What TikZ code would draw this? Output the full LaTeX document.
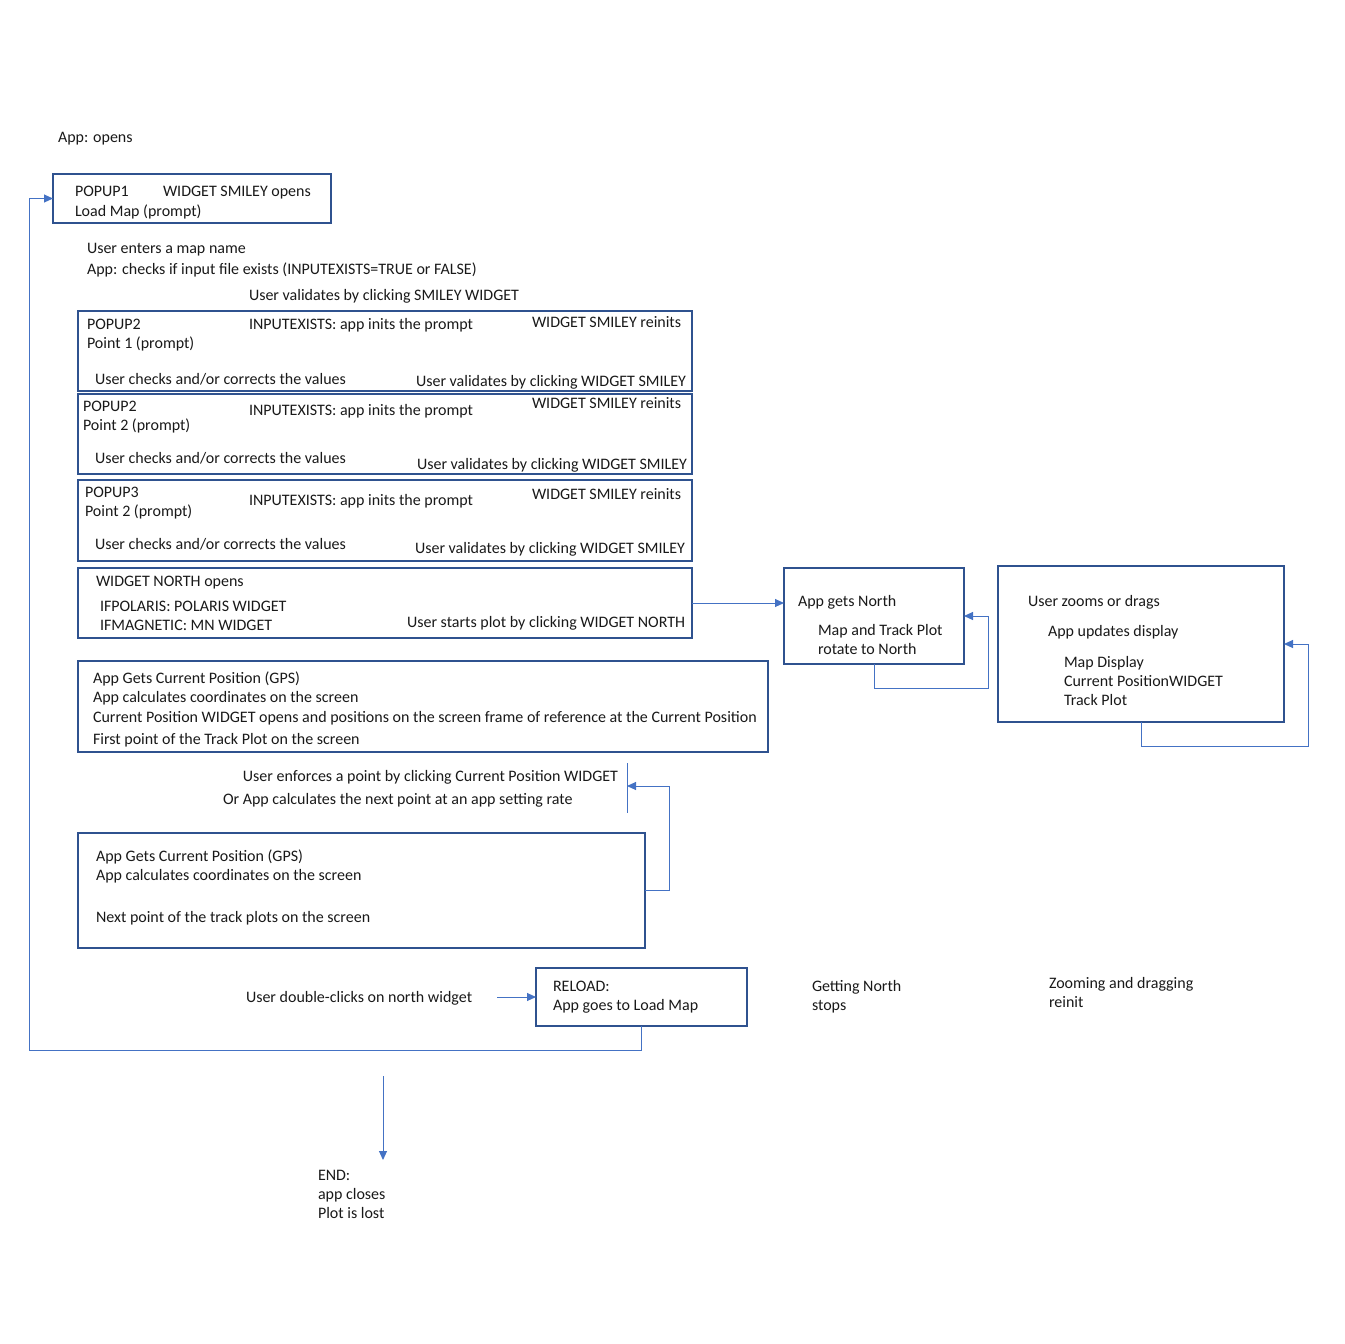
\documentclass[tikz,border=0pt]{standalone}
\usepackage{fontspec}
\setmainfont{Carlito}
\usetikzlibrary{arrows.meta}
\definecolor{boxline}{HTML}{2F528F}
\definecolor{linkblue}{HTML}{4472C4}
\begin{document}
\begin{tikzpicture}[x=1pt,y=-1pt,
  every node/.style={font=\fontsize{16}{19}\selectfont, inner sep=0pt, outer sep=0pt, text=black!90},
  txt/.style={anchor=base west},
  rtxt/.style={anchor=base east},
  box/.style={draw=boxline, line width=1.2pt, anchor=north west},
  link/.style={draw=linkblue, line width=1pt, -{Triangle[length=9pt,width=8pt]}},
  plain/.style={draw=linkblue, line width=1pt}]
\useasboundingbox (0,0) rectangle (1344,1344);

% ---- boxes ----
\node[box, minimum width=278pt, minimum height=49pt] (popup1) at (53,174) {};
\node[box, minimum width=614pt, minimum height=80pt] (popup2a) at (78,311) {};
\node[box, minimum width=614pt, minimum height=80pt] (popup2b) at (78,394) {};
\node[box, minimum width=614pt, minimum height=81pt] (popup3) at (78,480) {};
\node[box, minimum width=614pt, minimum height=70pt] (north) at (78,568) {};
\node[box, minimum width=180pt, minimum height=96pt] (appnorth) at (784,568) {};
\node[box, minimum width=286pt, minimum height=156pt] (zoom) at (998,566) {};
\node[box, minimum width=690pt, minimum height=91pt] (gps1) at (78,661) {};
\node[box, minimum width=567pt, minimum height=115pt] (gps2) at (78,833) {};
\node[box, minimum width=211pt, minimum height=58pt] (reload) at (536,968) {};

% ---- texts ----
\node[txt] (appopens) at (58,142) {App: opens};

\node[txt] (p1a) at (75,196) {POPUP1};
\node[txt] (p1b) at (163,196) {WIDGET SMILEY opens};
\node[txt] (p1c) at (75,216) {Load Map (prompt)};

\node[txt] (enter1) at (87,253) {User enters a map name};
\node[txt] (enter2) at (87,274) {App: checks if input file exists (INPUTEXISTS=TRUE or FALSE)};
\node[txt] (valid0) at (249,300) {User validates by clicking SMILEY WIDGET};

\node[txt] (p2a1) at (87,329) {POPUP2};
\node[txt] (p2a2) at (87,348) {Point 1 (prompt)};
\node[txt] (p2a3) at (249,329) {INPUTEXISTS: app inits the prompt};
\node[txt] (p2a4) at (532,327) {WIDGET SMILEY reinits};
\node[txt] (p2a5) at (95,384) {User checks and/or corrects the values};
\node[txt] (p2a6) at (416,386) {User validates by clicking WIDGET SMILEY};

\node[txt] (p2b1) at (83,411) {POPUP2};
\node[txt] (p2b2) at (83,430) {Point 2 (prompt)};
\node[txt] (p2b3) at (249,415) {INPUTEXISTS: app inits the prompt};
\node[txt] (p2b4) at (532,408) {WIDGET SMILEY reinits};
\node[txt] (p2b5) at (95,463) {User checks and/or corrects the values};
\node[txt] (p2b6) at (417,469) {User validates by clicking WIDGET SMILEY};

\node[txt] (p31) at (85,497) {POPUP3};
\node[txt] (p32) at (85,516) {Point 2 (prompt)};
\node[txt] (p33) at (249,505) {INPUTEXISTS: app inits the prompt};
\node[txt] (p34) at (532,499) {WIDGET SMILEY reinits};
\node[txt] (p35) at (95,549) {User checks and/or corrects the values};
\node[txt] (p36) at (415,553) {User validates by clicking WIDGET SMILEY};

\node[txt] (n1) at (96,586) {WIDGET NORTH opens};
\node[txt] (n2) at (100,611) {IFPOLARIS: POLARIS WIDGET};
\node[txt] (n3) at (100,630) {IFMAGNETIC: MN WIDGET};
\node[txt] (n4) at (407,627) {User starts plot by clicking WIDGET NORTH};

\node[txt] (an1) at (798,606) {App gets North};
\node[txt] (an2) at (818,635) {Map and Track Plot};
\node[txt] (an3) at (818,654) {rotate to North};

\node[txt] (z1) at (1028,606) {User zooms or drags};
\node[txt] (z2) at (1048,636) {App updates display};
\node[txt] (z3) at (1064,667) {Map Display};
\node[txt] (z4) at (1064,686) {Current PositionWIDGET};
\node[txt] (z5) at (1064,705) {Track Plot};

\node[txt] (g11) at (93,683) {App Gets Current Position (GPS)};
\node[txt] (g12) at (93,702) {App calculates coordinates on the screen};
\node[txt] (g13) at (93,722) {Current Position WIDGET opens and positions on the screen frame of reference at the Current Position};
\node[txt] (g14) at (93,744) {First point of the Track Plot on the screen};

\node[rtxt] (enf1) at (618,781) {User enforces a point by clicking Current Position WIDGET};
\node[txt] (enf2) at (223,804) {Or App calculates the next point at an app setting rate};

\node[txt] (g21) at (96,861) {App Gets Current Position (GPS)};
\node[txt] (g22) at (96,880) {App calculates coordinates on the screen};
\node[txt] (g23) at (96,922) {Next point of the track plots on the screen};

\node[txt] (dbl) at (246,1002) {User double-clicks on north widget};
\node[txt] (r1) at (553,991) {RELOAD:};
\node[txt] (r2) at (553,1010) {App goes to Load Map};

\node[txt] (gn1) at (812,991) {Getting North};
\node[txt] (gn2) at (812,1010) {stops};
\node[txt] (zd1) at (1049,988) {Zooming and dragging};
\node[txt] (zd2) at (1049,1007) {reinit};

\node[txt] (e1) at (318,1180) {END:};
\node[txt] (e2) at (318,1199) {app closes};
\node[txt] (e3) at (318,1218) {Plot is lost};

% ---- connectors ----
\draw[link] (north.east) -- (north.east -| appnorth.west);

\coordinate (anloop) at (988,688);
\draw[link] (appnorth.south) |- (anloop) |- (appnorth.east);

\coordinate (zmloop) at (1308,746);
\draw[link] (zoom.south) |- (zmloop) |- (zoom.east);

\coordinate (barTop) at (627,763);
\coordinate (barBot) at (627,813);
\draw[plain] (barTop) -- (barBot);
\coordinate (gploop) at (669,786);
\draw[link] (gps2.east) -| (gploop) -- (gploop -| barTop);

\coordinate (dcstart) at (497,997);
\draw[link] (dcstart) -- (dcstart -| reload.west);

\coordinate (rlloop) at (29,1050);
\draw[link] (reload.south) |- (rlloop) |- (popup1.west);

\coordinate (endtop) at (383,1076);
\coordinate (endtip) at (383,1160);
\draw[link] (endtop) -- (endtip);
\end{tikzpicture}
\end{document}
